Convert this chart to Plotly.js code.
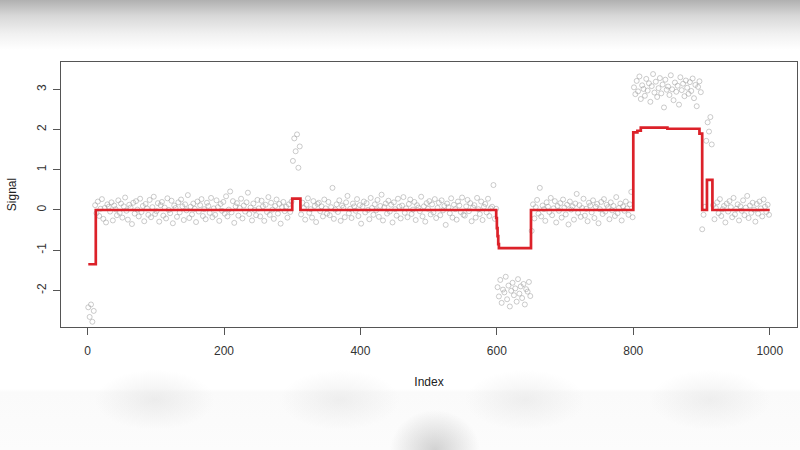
<!DOCTYPE html>
<html>
<head>
<meta charset="utf-8">
<script src="https://cdn.plot.ly/plotly-3.0.1.min.js"></script>
<style>
  html, body { margin: 0; padding: 0; }
  body {
    width: 800px; height: 450px; overflow: hidden;
    background:
      radial-gradient(ellipse 45px 40px at 435px 450px, rgba(175,175,175,0.55), rgba(255,255,255,0)),
      radial-gradient(ellipse 60px 30px at 155px 400px, rgba(215,215,215,0.4), rgba(255,255,255,0)),
      radial-gradient(ellipse 60px 30px at 340px 400px, rgba(220,220,220,0.4), rgba(255,255,255,0)),
      radial-gradient(ellipse 60px 30px at 525px 400px, rgba(220,220,220,0.4), rgba(255,255,255,0)),
      radial-gradient(ellipse 60px 30px at 710px 400px, rgba(220,220,220,0.4), rgba(255,255,255,0)),
      linear-gradient(to bottom, #b0b0b0 0px, #d8d8d8 16px, #f1f1f1 34px, #ffffff 50px, #ffffff 389px, #fafafa 392px, #fcfcfc 450px);
  }
  #plot { width: 800px; height: 450px; }
</style>
</head>
<body>
<div id="plot"></div>
<script>
// signal values, one per odd index 1, 3, ..., 999
let segStart = [-2.42, -2.66, -2.35, -2.78, -2.51];
let segFlat1 = [
    0.12, -0.08, 0.21, -0.15, 0.03, 0.27, -0.22, 0.05, -0.31, 0.14, 0.08, -0.04, 0.19, -0.26, 0.11, 0.02, -0.13, 0.24, -0.07, 0.16,
    -0.19, 0.09, 0.31, -0.02, -0.24, 0.13, 0.06, -0.35, 0.18, -0.09, 0.22, 0.01, -0.16, 0.28, -0.05, 0.10, -0.28, 0.15, 0.04, -0.12,
    0.25, -0.18, 0.07, 0.33, -0.10, -0.03, 0.17, -0.29, 0.12, 0.20, -0.14, 0.06, -0.21, 0.29, 0.00, -0.08, 0.23, -0.33, 0.11, 0.05,
    -0.17, 0.19, -0.06, 0.26, 0.09, -0.25, 0.14, -0.01, 0.37, -0.20, 0.08, -0.11, 0.16, 0.03, -0.30, 0.21, -0.04, 0.12, 0.27, -0.15,
    0.02, -0.23, 0.18, 0.10, -0.07, 0.30, -0.18, 0.04, -0.12, 0.24, 0.07, -0.27, 0.15, -0.02, 0.20, -0.09, 0.34, -0.16, 0.01, 0.46,
    -0.06, 0.22, -0.32, 0.09, 0.17, -0.14, 0.05, 0.28, -0.21, 0.11, -0.04, 0.19, 0.43, -0.10, 0.06, -0.26, 0.16, 0.00, -0.13, 0.25,
    0.04, -0.16, 0.23, 0.09, -0.27, 0.13, -0.05, 0.32, -0.12, 0.18, 0.01, -0.22, 0.10, 0.26, -0.09, 0.15, -0.34, 0.07, 0.20, -0.03,
    0.08, -0.19, 0.14, -0.05, 0.21
];
let segBump = [1.22, 1.78, 1.46, 1.88, 1.05, 1.58];
let segFlat2 = [
    -0.11, 0.18, 0.05, -0.24, 0.13, 0.29, -0.07, 0.02, -0.19, 0.22, 0.10, -0.30, 0.15, 0.18, -0.03, 0.09, -0.16, 0.26, 0.04, -0.09,
    0.20, -0.13, 0.07, 0.55, -0.22, 0.01, 0.14, -0.05, 0.24, -0.27, 0.11, 0.06, -0.18, 0.19, 0.35, -0.08, 0.03, -0.20, 0.16, 0.09,
    -0.02, 0.27, -0.15, 0.12, -0.34, 0.08, 0.21, -0.06, 0.17, 0.00, -0.23, 0.30, 0.05, -0.12, 0.14, -0.01, 0.25, -0.17, 0.10, 0.38,
    -0.26, 0.07, 0.16, -0.09, 0.23, -0.04, 0.13, -0.31, 0.19, 0.02, -0.14, 0.28, 0.08, -0.21, 0.11, 0.32, -0.07, 0.04, -0.18, 0.15,
    0.26, -0.10, 0.01, 0.20, -0.25, 0.12, 0.06, -0.03, 0.33, -0.16, 0.09, -0.29, 0.17, 0.03, 0.22, -0.11, 0.14, -0.06, 0.27, -0.20,
    0.05, 0.18, -0.13, 0.24, -0.01, 0.10, -0.37, 0.16, 0.07, -0.08, 0.29, -0.19, 0.13, 0.02, -0.24, 0.21, 0.11, -0.05, 0.31, -0.12,
    -0.14, 0.09, 0.25, -0.03, 0.17, -0.28, 0.06, 0.12, -0.19, 0.30, 0.02, -0.10, 0.21, -0.25, 0.08, 0.15, -0.06, 0.28, -0.15, 0.04,
    0.08, 0.62, -0.22, 0.03
];
let segLoss = [
    -1.92, -2.15, -1.74, -2.31, -1.98, -2.05, -1.66, -2.22, -1.88, -2.40, -2.01, -1.81, -2.12,
    -1.95, -2.28, -1.72, -2.08, -1.90, -2.19, -1.84, -2.35, -1.97, -2.03, -1.79, -2.14
];
let segFlat3 = [
    -0.52, 0.14, -0.21, 0.07, 0.25, -0.09, 0.55, -0.16, 0.11, 0.02, -0.27, 0.19, 0.08, -0.05, 0.30, -0.13, 0.04, 0.22, -0.31, 0.10,
    -0.02, 0.17, -0.19, 0.26, 0.06, -0.11, 0.13, -0.36, 0.21, 0.01, 0.09, -0.24, 0.16, 0.40, -0.07, 0.12, -0.17, 0.05, 0.28, -0.14,
    0.03, -0.28, 0.18, 0.11, -0.06, 0.24, -0.20, 0.08, 0.15, -0.33, 0.02, 0.20, -0.10, 0.27, -0.04, 0.13, 0.07, -0.23, 0.19, -0.01,
    0.10, -0.15, 0.32, -0.08, 0.05, 0.16, -0.26, 0.09, -0.02, 0.21, 0.04, -0.12, 0.14, 0.45, -0.18
];
let segGain = [
    3.05, 2.88, 3.21, 2.95, 3.32, 2.76, 3.10, 3.01, 2.84, 3.26, 2.97, 3.15, 2.69, 3.08, 3.38, 2.92, 3.19, 2.81, 3.03, 3.28,
    2.90, 3.12, 2.55, 3.24, 2.99, 3.07, 2.86, 3.35, 3.00, 2.73, 3.17, 2.94, 3.09, 2.62, 3.30, 2.98, 3.14, 2.83, 3.22, 3.04,
    2.89, 3.18, 2.96, 3.27, 2.78, 3.11, 2.58, 3.06, 3.20, 2.93
];
let segGap = [-0.48, -0.12, 0.08];
let segSpike = [1.72, 2.18, 1.95, 2.31, 1.63];
let segFlat4 = [
    0.12, -0.23, 0.05, 0.19, -0.08, 0.27, -0.15, 0.02, 0.10, -0.31, 0.16, -0.04, 0.22, 0.07, -0.18, 0.30, -0.11, 0.03, 0.14, -0.26,
    0.09, -0.02, 0.24, -0.13, 0.06, 0.35, -0.20, 0.11, -0.07, 0.18, 0.01, -0.29, 0.15, -0.09, 0.21, 0.04, -0.16, 0.26, 0.08, -0.05,
    0.13, -0.12
];

// fitted step function (segment start, level)
let stepX = [1, 12, 300, 312, 599, 600, 601, 602, 603, 650, 800, 806, 811, 850, 897, 901, 908, 916, 1000];
let stepY = [-1.35, 0, 0.28, 0, -0.2, -0.45, -0.65, -0.85, -0.95, 0, 1.93, 1.97, 2.05, 2.02, 1.9, 0, 0.75, 0, 0];

let xTicks = [0, 200, 400, 600, 800, 1000];
let yTicks = [-2, -1, 0, 1, 2, 3];

let signal = [].concat(segStart, segFlat1, segBump, segFlat2, segLoss,
    segFlat3, segGain, segGap, segSpike, segFlat4);
let index = signal.map(function (v, i) { return 2 * i + 1; });

var data = [
    {
        x: index,
        y: signal,
        type: 'scatter',
        mode: 'markers',
        marker: {
            symbol: 'circle-open',
            size: 5,
            color: 'rgba(160, 160, 160, 0.55)',
            line: { width: 1 }
        },
        hoverinfo: 'skip'
    },
    {
        x: stepX,
        y: stepY,
        type: 'scatter',
        mode: 'lines',
        line: { color: '#dc2129', width: 2.7, shape: 'hv' }
    }
];

var axisFont = { family: 'Liberation Sans, Arial, sans-serif', size: 12, color: '#333' };
var titleFont = { family: 'Liberation Sans, Arial, sans-serif', size: 12, color: '#222' };

var layout = {
    width: 800,
    height: 450,
    showlegend: false,
    paper_bgcolor: 'rgba(0,0,0,0)',
    plot_bgcolor: '#ffffff',
    margin: { l: 61, r: 3, t: 62, b: 123 },
    font: axisFont,
    xaxis: {
        range: [-39, 1040],
        tickvals: xTicks,
        ticktext: xTicks.map(String),
        ticks: 'outside',
        ticklen: 7,
        tickcolor: '#555',
        ticklabelstandoff: 6,
        showline: true,
        mirror: true,
        linecolor: '#555',
        linewidth: 1,
        showgrid: false,
        zeroline: false,
        tickfont: axisFont,
        title: { text: 'Index', font: titleFont, standoff: 20 }
    },
    yaxis: {
        range: [-2.91, 3.68],
        tickvals: yTicks,
        ticktext: yTicks.map(String),
        tickangle: -90,
        ticks: 'outside',
        ticklen: 7,
        tickcolor: '#555',
        ticklabelstandoff: 2,
        showline: true,
        mirror: true,
        linecolor: '#555',
        linewidth: 1,
        showgrid: false,
        zeroline: false,
        tickfont: axisFont,
        title: { text: 'Signal', font: titleFont, standoff: 16 }
    }
};

Plotly.newPlot('plot', data, layout, { displayModeBar: false, staticPlot: true });
</script>
</body>
</html>
